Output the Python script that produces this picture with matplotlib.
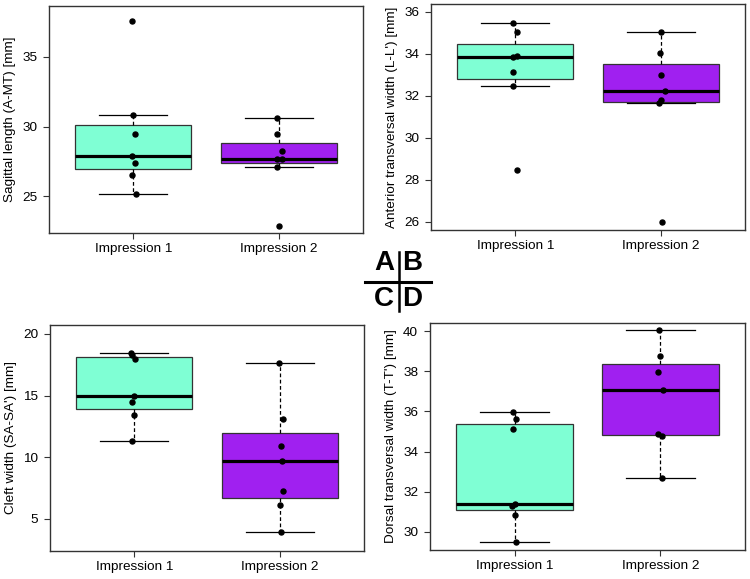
import numpy as np
import matplotlib
matplotlib.use('Agg')
import matplotlib.pyplot as plt
from matplotlib.lines import Line2D

plt.rcParams['font.family'] = ['Liberation Sans', 'DejaVu Sans']

groups = ['Impression 1', 'Impression 2']

sagittal_imp1 = [37.55, 30.8, 29.45, 27.9, 27.4, 26.5, 25.2]
sagittal_imp2 = [30.65, 29.45, 28.25, 27.7, 27.65, 27.1, 22.9]

anterior_imp1 = [35.45, 35.02, 33.9, 33.85, 33.11, 32.46, 28.48]
anterior_imp2 = [35.05, 34.05, 32.97, 32.24, 31.8, 31.64, 26.0]

cleft_imp1 = [18.45, 18.3, 17.95, 14.95, 14.46, 13.41, 11.35]
cleft_imp2 = [17.62, 13.08, 10.92, 9.68, 7.24, 6.11, 3.89]

dorsal_imp1 = [35.98, 35.63, 35.1, 31.4, 31.28, 30.83, 29.47]
dorsal_imp2 = [40.05, 38.78, 37.95, 37.08, 34.88, 34.77, 32.68]

# small horizontal jitter of the dots (x units), same order as values
jit_a = [[-0.01, 0.0, 0.01, -0.01, 0.01, -0.01, 0.02], [-0.01, -0.01, 0.02, -0.01, 0.02, -0.01, 0.0]]
jit_b = [[-0.016, 0.01, 0.01, -0.016, -0.016, -0.016, 0.014], [0.0, -0.005, 0.005, 0.03, 0.0, -0.014, 0.01]]
jit_c = [[-0.023, -0.018, 0.007, 0.0, -0.018, 0.0, -0.018], [-0.005, 0.023, 0.007, 0.016, 0.02, 0.0, 0.011]]
jit_d = [[-0.014, 0.01, -0.01, 0.002, -0.02, 0.0, 0.01], [-0.007, 0.0, -0.018, 0.018, -0.014, 0.01, 0.01]]

colors = ['#7FFFD4', '#A020F0']

W, H = 750, 579
fig = plt.figure(figsize=(7.5, 5.79), dpi=100)

def rect(left, top, right, bottom):
    return [left / W, 1 - bottom / H, (right - left) / W, (bottom - top) / H]

panels = [
    (rect(49, 6, 363, 233), [sagittal_imp1, sagittal_imp2], jit_a,
     'Sagittal length (A-MT) [mm]', (22.38, 38.64), [25, 30, 35]),
    (rect(431, 4, 745, 230), [anterior_imp1, anterior_imp2], jit_b,
     "Anterior transversal width (L-L') [mm]", (25.6, 36.37), [26, 28, 30, 32, 34, 36]),
    (rect(50, 325, 364, 551), [cleft_imp1, cleft_imp2], jit_c,
     "Cleft width (SA-SA') [mm]", (2.38, 20.73), [5, 10, 15, 20]),
    (rect(430, 323, 745, 550), [dorsal_imp1, dorsal_imp2], jit_d,
     "Dorsal transversal width (T-T') [mm]", (29.08, 40.42), [30, 32, 34, 36, 38, 40]),
]

for pos, data, jit, ylabel, ylim, yticks in panels:
    ax = fig.add_axes(pos)
    bp = ax.boxplot(data, positions=[1, 2], widths=0.8, whis=1.5, showfliers=False,
                    patch_artist=True,
                    boxprops=dict(edgecolor='#333333', linewidth=0.9),
                    medianprops=dict(color='black', linewidth=2.3),
                    whiskerprops=dict(color='black', linestyle=(0, (3, 2)), linewidth=0.9),
                    capprops=dict(color='black', linewidth=0.9), capwidths=0.47)
    for patch, c in zip(bp['boxes'], colors):
        patch.set_facecolor(c)
    for i, (vals, jj) in enumerate(zip(data, jit)):
        x = (i + 1) + np.array(jj)
        ax.plot(x, vals, 'o', color='black', markersize=3.6, zorder=5)
    ax.set_xlim(0.42, 2.58)
    ax.set_ylim(*ylim)
    ax.set_xticks([1, 2])
    ax.set_xticklabels(groups)
    ax.set_yticks(yticks)
    ax.tick_params(axis='both', direction='out', length=4.5, width=0.8,
                   labelsize=9.7, color='#333333')
    ax.tick_params(axis='x', pad=3)
    ax.tick_params(axis='y', pad=4)
    ax.set_ylabel(ylabel, fontsize=9.7)
    ax.yaxis.set_label_coords(-0.106, 0.5)
    for s in ax.spines.values():
        s.set_color('#333333')
        s.set_linewidth(1.0)

# panel key in the centre
def fx(x):
    return x / W

def fy(y):
    return 1 - y / H

for letter, x, y in [('A', 384, 262.5), ('B', 412.5, 262.5), ('C', 383.5, 299), ('D', 412.5, 299)]:
    fig.text(fx(x), fy(y), letter, fontsize=20, fontweight='bold', ha='center', va='center')
fig.add_artist(Line2D([fx(365), fx(431)], [fy(282.3), fy(282.3)], color='black', linewidth=2.2))
fig.add_artist(Line2D([fx(399), fx(399)], [fy(251.5), fy(311)], color='black', linewidth=1.8))

fig.savefig('out.png', dpi=100)
